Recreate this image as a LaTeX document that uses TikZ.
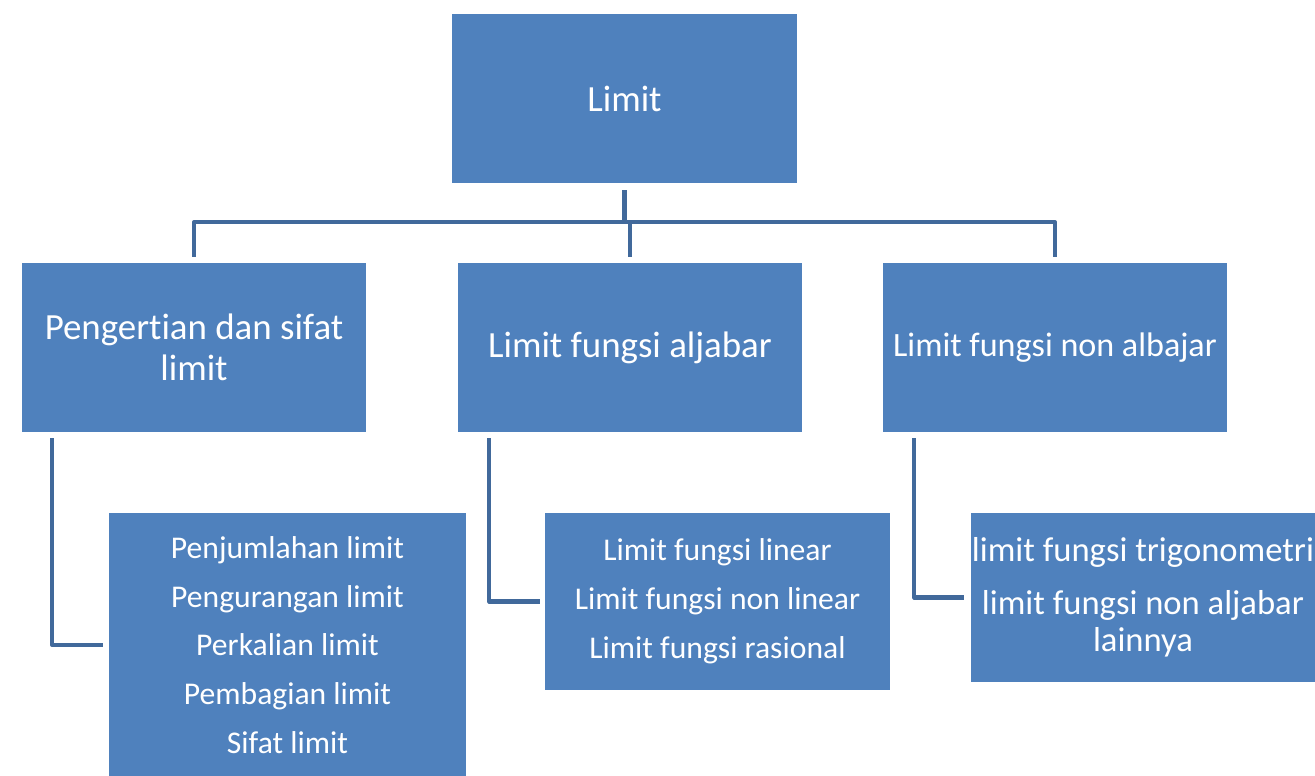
\documentclass[tikz,border=0pt]{standalone}
\usepackage{fontspec}
\setmainfont{Carlito}[Ligatures=NoCommon]
\usetikzlibrary{positioning}
\definecolor{boxblue}{HTML}{4F81BD}
\definecolor{linkblue}{HTML}{41699B}
\tikzset{
  box/.style={fill=boxblue, text=white, inner sep=0pt, align=center},
  topbox/.style={box, minimum width=6.9cm, minimum height=3.38cm, font=\fontsize{21}{23.2}\selectfont},
  subbox/.style={box, minimum width=6.9cm, font=\fontsize{18}{27.8}\selectfont},
  link/.style={draw=linkblue, line width=2.3pt}
}
\begin{document}
\begin{tikzpicture}[x=0.02cm, y=-0.02cm, line join=round]
  \useasboundingbox (0,0) rectangle (1315,775);
  \clip (0,0) rectangle (1315,775);
  % level 0
  \node[topbox] (lim) at (624.5,98.5) {Limit};
  % level 1
  \node[topbox] (pengertian) at (194,347.5) {Pengertian dan sifat\\limit};
  \node[topbox] (aljabar) at (630,347.5) {Limit fungsi aljabar};
  \node[topbox, font=\fontsize{19.4}{23.2}\selectfont] (nonaljabar) at (1055,347.5) {Limit fungsi non albajar};
  % level 2
  \node[subbox, minimum width=7.14cm, minimum height=5.28cm] (sifat) at (287.5,645)
    {Penjumlahan limit\\Pengurangan limit\\Perkalian limit\\Pembagian limit\\Sifat limit};
  \node[subbox, minimum height=3.54cm] (jenisalj) at (717.5,601.5)
    {Limit fungsi linear\\Limit fungsi non linear\\Limit fungsi rasional};
  \node[subbox, minimum height=3.38cm, font=\fontsize{19.7}{21}\selectfont] (jenisnon) at (1143,597.5)
    {limit fungsi trigonometri\\[9pt]limit fungsi non aljabar\\lainnya};
  % connectors
  \coordinate (bus) at (0,222);
  \draw[link] ([shift={(0,7)}]lim.south) -- (lim.south |- bus);
  \draw[link] ([shift={(0,-6)}]pengertian.north) |- (lim.south |- bus) -| ([shift={(0,-6)}]nonaljabar.north);
  \draw[link] (aljabar.north |- bus) -- ([shift={(0,-6)}]aljabar.north);
  \draw[link] ([shift={(31,6)}]pengertian.south west) |- ([shift={(-6,0)}]sifat.west);
  \draw[link] ([shift={(32,6)}]aljabar.south west) |- ([shift={(-5,0)}]jenisalj.west);
  \draw[link] ([shift={(32,6)}]nonaljabar.south west) |- ([shift={(-6,0)}]jenisnon.west);
\end{tikzpicture}
\end{document}
